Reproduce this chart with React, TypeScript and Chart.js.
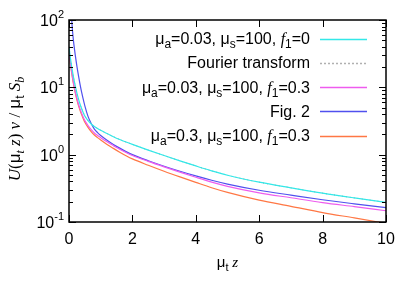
import { useEffect, useRef } from 'react';
import { Chart, registerables } from 'chart.js';
Chart.register(...registerables);

// ---- data ----
const zCommon = [0, 0.05, 0.1, 0.15, 0.2, 0.25, 0.3, 0.35, 0.4, 0.45, 0.5, 0.6, 0.7, 0.8, 0.9, 1, 1.2, 1.4, 1.6, 1.8, 2, 2.5, 3, 3.5, 4, 4.5, 5, 6, 7, 8, 9, 10];
const cyanVals = [40, 26, 18.3, 13.5, 10.4, 8.2, 6.7, 5.6, 4.8, 4.2, 3.75, 3.2, 2.85, 2.63, 2.45, 2.3, 2.06, 1.85, 1.68, 1.54, 1.42, 1.17, 0.97, 0.81, 0.68, 0.575, 0.495, 0.39, 0.322, 0.268, 0.228, 0.196];
const fourierVals = cyanVals;
const magentaVals = [34, 21.8, 15.2, 11.1, 8.5, 6.8, 5.6, 4.75, 4.1, 3.6, 3.2, 2.7, 2.35, 2.1, 1.93, 1.79, 1.55, 1.36, 1.2, 1.075, 0.972, 0.796, 0.66, 0.551, 0.462, 0.391, 0.339, 0.271, 0.229, 0.194, 0.169, 0.147];
const orangeVals = [33, 21.1, 14.7, 10.7, 8.2, 6.5, 5.35, 4.52, 3.9, 3.42, 3.03, 2.55, 2.2, 1.96, 1.79, 1.65, 1.42, 1.24, 1.09, 0.965, 0.865, 0.697, 0.568, 0.468, 0.388, 0.323, 0.275, 0.211, 0.171, 0.138, 0.115, 0.0955];
const zBlue = [0.05, 0.06, 0.07, 0.08, 0.1, 0.125, 0.15, 0.2, 0.25, 0.3, 0.35, 0.4, 0.45, 0.5, 0.6, 0.7, 0.8, 0.9, 1, 1.2, 1.4, 1.6, 1.8, 2, 2.5, 3, 3.5, 4, 4.5, 5, 6, 7, 8, 9, 10];
const blueVals = [230, 175, 138, 112, 80, 58, 45, 29.5, 20.5, 14.8, 11, 8.4, 6.6, 5.3, 3.7, 2.9, 2.4, 2.13, 1.93, 1.64, 1.42, 1.25, 1.11, 1.0, 0.813, 0.674, 0.567, 0.483, 0.417, 0.366, 0.296, 0.251, 0.214, 0.186, 0.163];

const xTickValues = [0, 2, 4, 6, 8, 10];
const xTickLabels = ['0', '2', '4', '6', '8', '10'];
const yTickValues = [0.1, 1, 10, 100];
const yTickExponents = ['-1', '0', '1', '2'];

const COLORS = {
  cyan: '#33e8e8',
  fourier: '#8a8a8a',
  magenta: '#ee5cee',
  blue: '#5050ee',
  orange: '#ff7744',
};

const SANS = '"Liberation Sans", Arial, sans-serif';
const SERIF = '"Liberation Serif", "Times New Roman", serif';

type Seg = { t: string; f: string; dy?: number };

function segWidth(ctx: CanvasRenderingContext2D, segs: Seg[]) {
  let w = 0;
  for (const s of segs) {
    ctx.font = s.f;
    w += ctx.measureText(s.t).width;
  }
  return w;
}

function drawSegs(ctx: CanvasRenderingContext2D, segs: Seg[], x: number, y: number) {
  let cx = x;
  for (const s of segs) {
    ctx.font = s.f;
    ctx.fillText(s.t, cx, y + (s.dy || 0));
    cx += ctx.measureText(s.t).width;
  }
}

const f16 = `16px ${SANS}`;
const f12 = `12px ${SANS}`;
const i16 = `italic 16px ${SERIF}`;
const f15 = `15px ${SANS}`;
const f11 = `11px ${SANS}`;
const i15 = `italic 15px ${SERIF}`;
const f17 = `17px ${SANS}`;
const i17 = `italic 17px ${SERIF}`;
const s17 = `17px ${SERIF}`;
const i12 = `italic 12px ${SERIF}`;

function paramSegs(a: string, s: string, f: string): Seg[] {
  return [
    { t: 'μ', f: f16 }, { t: 'a', f: f12, dy: 4 }, { t: `=${a}, `, f: f16 },
    { t: 'μ', f: f16 }, { t: 's', f: f12, dy: 4 }, { t: `=${s}, `, f: f16 },
    { t: 'f', f: i16 }, { t: '1', f: f12, dy: 4 }, { t: `=${f}`, f: f16 },
  ];
}

const legendItems: { segs: Seg[]; color: string; dash: number[]; width: number }[] = [
  { segs: paramSegs('0.03', '100', '0'), color: COLORS.cyan, dash: [], width: 1.5 },
  { segs: [{ t: 'Fourier transform', f: f16 }], color: '#b0b0b0', dash: [2, 2], width: 1.5 },
  { segs: paramSegs('0.03', '100', '0.3'), color: COLORS.magenta, dash: [], width: 1.5 },
  { segs: [{ t: 'Fig. 2', f: f16 }], color: COLORS.blue, dash: [], width: 1.5 },
  { segs: paramSegs('0.3', '100', '0.3'), color: COLORS.orange, dash: [], width: 1.5 },
];

const decor = {
  id: 'decor',
  afterDraw(chart: any) {
    const { ctx, chartArea: a, scales } = chart;
    const xs = scales.x;
    const ys = scales.y;
    ctx.save();
    ctx.fillStyle = '#000';
    ctx.strokeStyle = '#000';
    ctx.lineWidth = 1;
    const ln = (x1: number, y1: number, x2: number, y2: number) => {
      ctx.beginPath();
      ctx.moveTo(x1, y1);
      ctx.lineTo(x2, y2);
      ctx.stroke();
    };
    xTickValues.forEach((v) => {
      const px = Math.round(xs.getPixelForValue(v)) + 0.5;
      ln(px, a.bottom, px, a.bottom - 7);
      ln(px, a.top, px, a.top + 7);
    });
    yTickValues.forEach((d) => {
      for (let m = 1; m <= 9; m++) {
        const v = d * m;
        if (v > 100.0001) break;
        const py = Math.round(ys.getPixelForValue(v)) + 0.5;
        const len = m === 1 ? 7 : 4;
        ln(a.left, py, a.left + len, py);
        ln(a.right, py, a.right - len, py);
      }
    });
    ctx.lineWidth = 1.5;
    ctx.strokeRect(a.left, a.top, a.right - a.left, a.bottom - a.top);

    // x tick labels
    ctx.font = `16px ${SANS}`;
    ctx.textAlign = 'center';
    ctx.textBaseline = 'alphabetic';
    xTickValues.forEach((v, i) => {
      ctx.fillText(xTickLabels[i], xs.getPixelForValue(v), a.bottom + 22);
    });
    // y tick labels
    ctx.textAlign = 'left';
    yTickValues.forEach((v, i) => {
      const py = ys.getPixelForValue(v);
      const base = '10';
      const ex = yTickExponents[i];
      ctx.font = `11px ${SANS}`;
      const we = ctx.measureText(ex).width;
      ctx.font = `16px ${SANS}`;
      const wb = ctx.measureText(base).width;
      const xr = a.left - 5;
      ctx.fillText(base, xr - we - wb, py + 6);
      ctx.font = `11px ${SANS}`;
      ctx.fillText(ex, xr - we, py - 2);
    });

    // x title
    const xt: Seg[] = [{ t: 'μ', f: f15 }, { t: 't', f: f11, dy: 4 }, { t: ' z', f: i15 }];
    const xw = segWidth(ctx, xt);
    drawSegs(ctx, xt, (a.left + a.right) / 2 - xw / 2, 267);

    // y title
    const yt: Seg[] = [
      { t: 'U', f: i17 }, { t: '(', f: s17 }, { t: 'μ', f: f17 }, { t: 't', f: i12, dy: 4 },
      { t: ' z', f: i17 }, { t: ')', f: s17 }, { t: ' ν', f: i17 }, { t: ' / ', f: s17 },
      { t: 'μ', f: f17 }, { t: 't', f: f12, dy: 4 }, { t: ' S', f: i17 }, { t: 'b', f: i12, dy: 4 },
    ];
    const yw = segWidth(ctx, yt);
    ctx.save();
    ctx.translate(20, 129);
    ctx.rotate(-Math.PI / 2);
    drawSegs(ctx, yt, -yw / 2, 0);
    ctx.restore();

    // legend
    const rowY0 = 38.5;
    const rowGap = 24.3;
    legendItems.forEach((it, i) => {
      const cy = rowY0 + i * rowGap;
      const w = segWidth(ctx, it.segs);
      ctx.fillStyle = '#000';
      drawSegs(ctx, it.segs, 310 - w, cy + 5.5);
      ctx.save();
      ctx.strokeStyle = it.color;
      ctx.lineWidth = it.width;
      ctx.setLineDash(it.dash);
      ln(320, Math.round(cy) + 0.5, 367, Math.round(cy) + 0.5);
      ctx.restore();
    });
    ctx.restore();
  },
};

function toPts(xs: number[], ys: number[]) {
  return xs.map((x, i) => ({ x, y: ys[i] }));
}

export default function App() {
  const ref = useRef<HTMLCanvasElement>(null);
  useEffect(() => {
    const common = { pointRadius: 0, borderWidth: 1.2, fill: false, cubicInterpolationMode: 'monotone' as const };
    const chart = new Chart(ref.current!, {
      type: 'line',
      data: {
        datasets: [
          { ...common, label: 'cyan', data: toPts(zCommon, cyanVals), borderColor: COLORS.cyan },
          { ...common, label: 'Fourier transform', data: toPts(zCommon, fourierVals), borderColor: COLORS.fourier, borderDash: [1, 3], borderWidth: 1 },
          { ...common, label: 'magenta', data: toPts(zCommon, magentaVals), borderColor: COLORS.magenta },
          { ...common, label: 'Fig. 2', data: toPts(zBlue, blueVals), borderColor: COLORS.blue },
          { ...common, label: 'orange', data: toPts(zCommon, orangeVals), borderColor: COLORS.orange },
        ],
      },
      options: {
        responsive: false,
        animation: false,
        devicePixelRatio: 1,
        layout: { padding: { left: 69, right: 29, top: 20, bottom: 69 } },
        plugins: { legend: { display: false }, tooltip: { enabled: false } },
        scales: {
          x: { type: 'linear', min: 0, max: 10, display: false },
          y: { type: 'logarithmic', min: 0.1, max: 100, display: false },
        },
      },
      plugins: [decor],
    });
    return () => chart.destroy();
  }, []);
  return (
    <div style={{ position: 'absolute', left: 0, top: 0, width: 415, height: 291, background: '#fff' }}>
      <canvas ref={ref} width={415} height={291} style={{ width: 415, height: 291, display: 'block' }} />
    </div>
  );
}
